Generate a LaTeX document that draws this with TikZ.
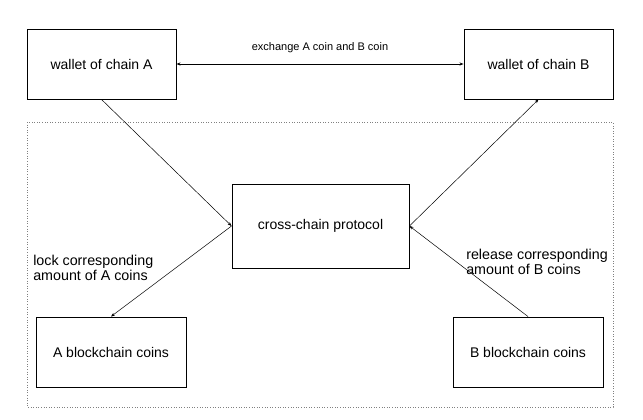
\documentclass[tikz,border=0pt]{standalone}
\usepackage{fontspec}
\setmainfont{Liberation Sans}
\usetikzlibrary{arrows.meta}

\begin{document}
\begin{tikzpicture}[x=1pt,y=-1pt,->,>={Stealth[length=4pt,width=3pt]},
  line width=0.5pt,main node/.style={rectangle,draw,line width=0.9pt,
    font=\fontsize{14}{16}\selectfont,minimum height=70pt,minimum width=149pt},
  note/.style={font=\fontsize{14.3}{15.5}\selectfont,align=left,anchor=west,inner sep=0pt}]
  \useasboundingbox (0,0) rectangle (643,420);

  \node[main node] (wla) at (101.5,64) {wallet of chain A};
  \node[main node] (wlb) [node distance=437pt, right of=wla] {wallet of chain B};
  \node[main node,minimum width=177pt,minimum height=84pt] (ccp) at (320.5,226) {cross-chain protocol};
  \node[main node,minimum width=150pt] (bca) at (111,352) {A blockchain coins};
  \node[main node,minimum width=150pt] (bcb) [node distance=417pt, right of=bca] {B blockchain coins};

  \draw[-,dotted,gray,line width=0.6pt] (27,122) rectangle (613,407);

  \path
  (wla) edge[<->,line width=0.8pt] node[above=7pt,font=\fontsize{11}{13}\selectfont] {exchange A coin and B coin} (wlb)
  (wla.south) edge (ccp.west)
  (ccp.west) edge (bca.north)
  (bcb.north) edge (ccp.east)
  (ccp.east) edge (wlb.south)
  ;

  \node[note] (lka) at (33,268) {lock corresponding\\amount of A coins};
  \node[note] (rlb) at (466,262) {release corresponding\\amount of B coins};

\end{tikzpicture}
\end{document}
